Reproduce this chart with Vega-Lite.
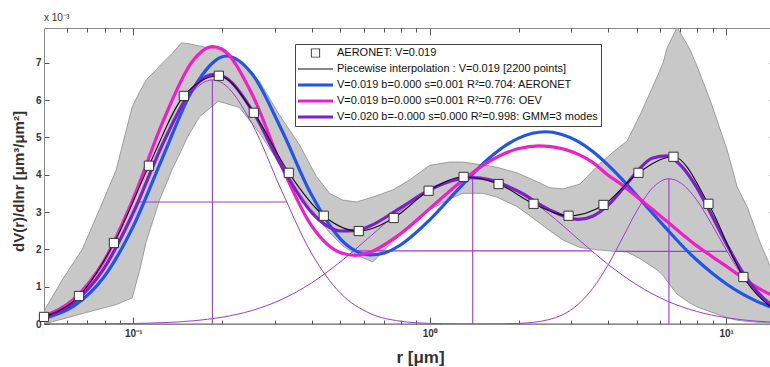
{
  "$schema": "https://vega.github.io/schema/vega-lite/v6.json",
  "width": 730,
  "height": 296,
  "autosize": "none",
  "padding": {"left": 44, "top": 28, "right": 0, "bottom": 43},
  "background": "white",
  "title": {"text": "x 10⁻³", "anchor": "start", "frame": "group", "fontSize": 10, "fontWeight": "normal", "color": "#333", "offset": 5, "font": "Liberation Sans"},
  "config": {
    "view": {"stroke": null},
    "font": "Liberation Sans",
    "axis": {"grid": false, "labelFont": "Liberation Sans", "titleFont": "Liberation Sans", "domainColor": "#8a8a8a", "tickColor": "#555", "labelColor": "#333", "titleColor": "#333"}
  },
  "datasets": {
    "band": [
      {"r":0.05,"hi":0.35,"lo":0},{"r":0.0576,"hi":1.18,"lo":0.13},{"r":0.0673,"hi":2.0,"lo":0.28},{"r":0.0786,"hi":3.24,"lo":0.42},
      {"r":0.0876,"hi":4.13,"lo":0.52},{"r":0.0992,"hi":5.82,"lo":0.7},{"r":0.1048,"hi":6.2,"lo":1.4},{"r":0.1106,"hi":6.54,"lo":2.2},
      {"r":0.1224,"hi":6.9,"lo":3.3},{"r":0.1354,"hi":7.25,"lo":4.15},{"r":0.1453,"hi":7.53,"lo":4.65},{"r":0.151,"hi":7.52,"lo":4.95},
      {"r":0.1671,"hi":7.45,"lo":5.55},{"r":0.1937,"hi":7.35,"lo":5.97},{"r":0.2281,"hi":7.05,"lo":5.8},{"r":0.2666,"hi":6.5,"lo":5.12},
      {"r":0.3113,"hi":5.6,"lo":4.3},{"r":0.3637,"hi":4.8,"lo":3.5},{"r":0.415,"hi":3.95,"lo":2.9},{"r":0.4595,"hi":3.5,"lo":2.45},
      {"r":0.5083,"hi":3.32,"lo":2.1},{"r":0.5667,"hi":3.27,"lo":1.85},{"r":0.6419,"hi":3.4,"lo":1.66},{"r":0.7499,"hi":3.59,"lo":2.2},
      {"r":0.8557,"hi":3.86,"lo":2.65},{"r":1.0,"hi":4.25,"lo":3.06},{"r":1.1686,"hi":4.34,"lo":3.35},{"r":1.2926,"hi":4.34,"lo":3.5},
      {"r":1.5101,"hi":4.26,"lo":3.5},{"r":1.6841,"hi":4.2,"lo":3.4},{"r":1.9676,"hi":4.05,"lo":3.15},{"r":2.177,"hi":3.9,"lo":2.9},
      {"r":2.5434,"hi":3.65,"lo":2.5},{"r":2.8134,"hi":3.62,"lo":2.25},{"r":3.213,"hi":3.75,"lo":2.05},{"r":3.7527,"hi":4.3,"lo":1.98},
      {"r":4.1511,"hi":4.6,"lo":1.95},{"r":4.63,"hi":4.9,"lo":1.93},{"r":5.1225,"hi":5.6,"lo":1.75},{"r":5.848,"hi":6.62,"lo":1.45},
      {"r":6.1277,"hi":7.0,"lo":1.3},{"r":6.321,"hi":7.4,"lo":1.15},{"r":6.8314,"hi":7.95,"lo":0.8},{"r":7.5568,"hi":7.35,"lo":0.56},
      {"r":7.9799,"hi":6.9,"lo":0.46},{"r":8.8308,"hi":6.0,"lo":0.33},{"r":10.078,"hi":4.66,"lo":0.17},{"r":10.894,"hi":3.67,"lo":0.1},
      {"r":11.775,"hi":3.14,"lo":0.07},{"r":13.027,"hi":2.17,"lo":0.04},{"r":14.53,"hi":1.3,"lo":0.03}
    ],
    "curves": [
      {"r":0.05,"v":0.15,"s":"fit"},{"r":0.0631,"v":0.484,"s":"fit"},{"r":0.0794,"v":1.245,"s":"fit"},{"r":0.1,"v":2.615,"s":"fit"},
      {"r":0.1259,"v":4.48,"s":"fit"},{"r":0.1585,"v":6.27,"s":"fit"},{"r":0.2061,"v":7.18,"s":"fit"},{"r":0.2512,"v":6.71,"s":"fit"},
      {"r":0.3162,"v":5.21,"s":"fit"},{"r":0.3981,"v":3.48,"s":"fit"},{"r":0.5012,"v":2.27,"s":"fit"},{"r":0.5623,"v":1.96,"s":"fit"},
      {"r":0.631,"v":1.85,"s":"fit"},{"r":0.7079,"v":1.91,"s":"fit"},{"r":0.7943,"v":2.11,"s":"fit"},{"r":1.0,"v":2.79,"s":"fit"},
      {"r":1.2589,"v":3.64,"s":"fit"},{"r":1.5849,"v":4.44,"s":"fit"},{"r":1.9953,"v":4.98,"s":"fit"},{"r":2.4491,"v":5.15,"s":"fit"},
      {"r":3.1623,"v":4.89,"s":"fit"},{"r":3.5481,"v":4.62,"s":"fit"},{"r":3.9811,"v":4.27,"s":"fit"},{"r":4.4668,"v":3.87,"s":"fit"},
      {"r":5.0119,"v":3.43,"s":"fit"},{"r":5.6234,"v":2.98,"s":"fit"},{"r":6.3096,"v":2.54,"s":"fit"},{"r":7.0795,"v":2.11,"s":"fit"},
      {"r":7.9433,"v":1.72,"s":"fit"},{"r":8.9125,"v":1.38,"s":"fit"},{"r":10,"v":1.08,"s":"fit"},{"r":11.22,"v":0.825,"s":"fit"},
      {"r":12.589,"v":0.62,"s":"fit"},{"r":14.52,"v":0.42,"s":"fit"},

      {"r":0.05,"v":0.21,"s":"oev"},{"r":0.0631,"v":0.67,"s":"oev"},{"r":0.0794,"v":1.67,"s":"oev"},{"r":0.1,"v":3.36,"s":"oev"},
      {"r":0.1259,"v":5.42,"s":"oev"},{"r":0.1585,"v":7.04,"s":"oev"},{"r":0.1849,"v":7.43,"s":"oev"},{"r":0.1995,"v":7.36,"s":"oev"},
      {"r":0.2512,"v":6.17,"s":"oev"},{"r":0.3162,"v":4.24,"s":"oev"},{"r":0.3981,"v":2.65,"s":"oev"},{"r":0.5012,"v":1.91,"s":"oev"},
      {"r":0.5623,"v":1.84,"s":"oev"},{"r":0.631,"v":1.93,"s":"oev"},{"r":0.7943,"v":2.41,"s":"oev"},{"r":1.0,"v":3.09,"s":"oev"},
      {"r":1.2589,"v":3.78,"s":"oev"},{"r":1.5849,"v":4.35,"s":"oev"},{"r":1.9953,"v":4.7,"s":"oev"},{"r":2.3442,"v":4.77,"s":"oev"},
      {"r":2.5119,"v":4.76,"s":"oev"},{"r":3.1623,"v":4.55,"s":"oev"},{"r":3.5481,"v":4.33,"s":"oev"},{"r":3.9811,"v":4.0,"s":"oev"},
      {"r":4.4668,"v":3.72,"s":"oev"},{"r":5.0119,"v":3.4,"s":"oev"},{"r":5.6234,"v":3.08,"s":"oev"},{"r":6.3096,"v":2.75,"s":"oev"},
      {"r":7.0795,"v":2.42,"s":"oev"},{"r":7.9433,"v":2.1,"s":"oev"},{"r":8.9125,"v":1.82,"s":"oev"},{"r":10,"v":1.55,"s":"oev"},
      {"r":11.22,"v":1.27,"s":"oev"},{"r":12.589,"v":1.0,"s":"oev"},{"r":14.52,"v":0.74,"s":"oev"},

      {"r":0.05,"v":0.18,"s":"gmm"},{"r":0.0631,"v":0.584,"s":"gmm"},{"r":0.0794,"v":1.473,"s":"gmm"},{"r":0.1,"v":2.981,"s":"gmm"},
      {"r":0.1259,"v":4.836,"s":"gmm"},{"r":0.1585,"v":6.304,"s":"gmm"},{"r":0.1849,"v":6.682,"s":"gmm"},{"r":0.1995,"v":6.642,"s":"gmm"},
      {"r":0.2512,"v":5.735,"s":"gmm"},{"r":0.3162,"v":4.237,"s":"gmm"},{"r":0.3981,"v":3.005,"s":"gmm"},{"r":0.4467,"v":2.65,"s":"gmm"},
      {"r":0.5012,"v":2.491,"s":"gmm"},{"r":0.5623,"v":2.5,"s":"gmm"},{"r":0.631,"v":2.63,"s":"gmm"},{"r":0.7943,"v":3.105,"s":"gmm"},
      {"r":1.0,"v":3.598,"s":"gmm"},{"r":1.2589,"v":3.889,"s":"gmm"},{"r":1.3964,"v":3.92,"s":"gmm"},{"r":1.5849,"v":3.87,"s":"gmm"},
      {"r":1.9953,"v":3.551,"s":"gmm"},{"r":2.5119,"v":3.078,"s":"gmm"},{"r":3.1623,"v":2.802,"s":"gmm"},{"r":3.5481,"v":2.889,"s":"gmm"},
      {"r":3.9811,"v":3.17,"s":"gmm"},{"r":4.4668,"v":3.609,"s":"gmm"},{"r":5.0119,"v":4.091,"s":"gmm"},{"r":5.6234,"v":4.442,"s":"gmm"},
      {"r":6.3096,"v":4.505,"s":"gmm"},{"r":6.4121,"v":4.49,"s":"gmm"},{"r":7.0795,"v":4.223,"s":"gmm"},{"r":7.9433,"v":3.668,"s":"gmm"},
      {"r":8.9125,"v":2.931,"s":"gmm"},{"r":10,"v":2.159,"s":"gmm"},{"r":11.22,"v":1.46,"s":"gmm"},{"r":12.589,"v":0.908,"s":"gmm"},
      {"r":14.52,"v":0.446,"s":"gmm"},

      {"r":0.05,"v":0.183,"s":"m1"},{"r":0.0631,"v":0.582,"s":"m1"},{"r":0.0794,"v":1.468,"s":"m1"},{"r":0.1,"v":2.967,"s":"m1"},
      {"r":0.1259,"v":4.8,"s":"m1"},{"r":0.1585,"v":6.22,"s":"m1"},{"r":0.1849,"v":6.54,"s":"m1"},{"r":0.1995,"v":6.46,"s":"m1"},
      {"r":0.2512,"v":5.375,"s":"m1"},{"r":0.3162,"v":3.582,"s":"m1"},{"r":0.3981,"v":1.912,"s":"m1"},{"r":0.5012,"v":0.818,"s":"m1"},
      {"r":0.631,"v":0.28,"s":"m1"},{"r":0.7943,"v":0.077,"s":"m1"},{"r":1.0,"v":0.017,"s":"m1"},{"r":1.2589,"v":0.003,"s":"m1"},
      {"r":1.5849,"v":0.0005,"s":"m1"},{"r":2.5119,"v":0,"s":"m1"},{"r":14.52,"v":0,"s":"m1"},

      {"r":0.05,"v":0.0005,"s":"m2"},{"r":0.0631,"v":0.0016,"s":"m2"},{"r":0.0794,"v":0.005,"s":"m2"},{"r":0.1,"v":0.014,"s":"m2"},
      {"r":0.1259,"v":0.036,"s":"m2"},{"r":0.1585,"v":0.084,"s":"m2"},{"r":0.1995,"v":0.182,"s":"m2"},{"r":0.2512,"v":0.36,"s":"m2"},
      {"r":0.3162,"v":0.655,"s":"m2"},{"r":0.3981,"v":1.093,"s":"m2"},{"r":0.5012,"v":1.673,"s":"m2"},{"r":0.631,"v":2.35,"s":"m2"},
      {"r":0.7943,"v":3.028,"s":"m2"},{"r":1.0,"v":3.581,"s":"m2"},{"r":1.2589,"v":3.886,"s":"m2"},{"r":1.3964,"v":3.92,"s":"m2"},
      {"r":1.5849,"v":3.869,"s":"m2"},{"r":1.9953,"v":3.535,"s":"m2"},{"r":2.5119,"v":2.964,"s":"m2"},{"r":3.1623,"v":2.28,"s":"m2"},
      {"r":3.5481,"v":1.936,"s":"m2"},{"r":3.9811,"v":1.609,"s":"m2"},{"r":4.4668,"v":1.309,"s":"m2"},{"r":5.0119,"v":1.043,"s":"m2"},
      {"r":5.6234,"v":0.812,"s":"m2"},{"r":6.3096,"v":0.619,"s":"m2"},{"r":7.0795,"v":0.463,"s":"m2"},{"r":7.9433,"v":0.338,"s":"m2"},
      {"r":8.9125,"v":0.241,"s":"m2"},{"r":10,"v":0.169,"s":"m2"},{"r":11.22,"v":0.116,"s":"m2"},{"r":12.589,"v":0.078,"s":"m2"},
      {"r":14.52,"v":0.046,"s":"m2"},

      {"r":0.05,"v":0,"s":"m3"},{"r":1.0,"v":0,"s":"m3"},{"r":1.5849,"v":0.0015,"s":"m3"},{"r":1.9953,"v":0.016,"s":"m3"},
      {"r":2.5119,"v":0.114,"s":"m3"},{"r":3.1623,"v":0.522,"s":"m3"},{"r":3.5481,"v":0.953,"s":"m3"},{"r":3.9811,"v":1.561,"s":"m3"},
      {"r":4.4668,"v":2.3,"s":"m3"},{"r":5.0119,"v":3.048,"s":"m3"},{"r":5.6234,"v":3.63,"s":"m3"},{"r":6.3096,"v":3.886,"s":"m3"},
      {"r":6.4121,"v":3.89,"s":"m3"},{"r":7.0795,"v":3.76,"s":"m3"},{"r":7.9433,"v":3.33,"s":"m3"},{"r":8.9125,"v":2.69,"s":"m3"},
      {"r":10,"v":1.99,"s":"m3"},{"r":11.22,"v":1.344,"s":"m3"},{"r":12.589,"v":0.83,"s":"m3"},{"r":14.52,"v":0.4,"s":"m3"}
    ],
    "aeronet": [
      {"r":0.05,"v":0.19},{"r":0.065604,"v":0.75},{"r":0.086077,"v":2.17},{"r":0.112939,"v":4.24},{"r":0.148184,"v":6.11},
      {"r":0.194429,"v":6.65},{"r":0.255105,"v":5.66},{"r":0.334716,"v":4.05},{"r":0.439173,"v":2.9},{"r":0.576227,"v":2.49},
      {"r":0.756052,"v":2.84},{"r":0.991996,"v":3.57},{"r":1.301571,"v":3.94},{"r":1.707757,"v":3.75},{"r":2.240702,"v":3.22},
      {"r":2.939966,"v":2.9},{"r":3.857452,"v":3.19},{"r":5.06126,"v":4.05},{"r":6.640745,"v":4.48},{"r":8.713145,"v":3.22},
      {"r":11.432287,"v":1.26},{"r":15,"v":0.3}
    ],
    "rules": [
      {"r":0.1849,"r2":0.1849,"v":0,"v2":6.54},
      {"r":1.3964,"r2":1.3964,"v":0,"v2":3.92},
      {"r":6.4121,"r2":6.4121,"v":0,"v2":3.89},
      {"r":0.104,"r2":0.3289,"v":3.27,"v2":3.27},
      {"r":0.554,"r2":3.52,"v":1.96,"v2":1.96},
      {"r":4.236,"r2":10.07,"v":1.945,"v2":1.945}
    ]
  },
  "layer": [
    {
      "data": {"name": "band"},
      "mark": {"type": "area", "fill": "#c8c8c8", "stroke": "#8c8c8c", "strokeWidth": 0.8, "clip": true},
      "encoding": {
        "x": {"field": "r", "type": "quantitative", "scale": {"type": "log", "domain": [0.05, 14.5], "nice": false},
          "axis": {"orient": "bottom", "values": [0.1, 1, 10], "labelExpr": "datum.value < 0.5 ? '10⁻¹' : datum.value < 5 ? '10⁰' : '10¹'",
            "tickSize": -7, "labelPadding": 11, "labelFontSize": 10, "labelFontWeight": "bold", "labelFlush": false, "labelOverlap": false,
            "title": "r [μm]", "titleFontSize": 17, "titleFontWeight": "bold", "titleX": 376, "titleY": 33, "titleAlign": "center", "titleBaseline": "middle"}},
        "y": {"field": "hi", "type": "quantitative", "scale": {"domain": [0, 7.93], "nice": false, "zero": false},
          "axis": {"orient": "left", "values": [0, 1, 2, 3, 4, 5, 6, 7], "tickSize": -5, "labelPadding": 8, "labelFontSize": 10, "labelFontWeight": "bold", "labelFlush": false,
            "title": "dV(r)/dlnr [μm³/μm²]", "titleFontSize": 15, "titleFontWeight": "bold", "titleAngle": -90, "titleX": -26, "titleY": 153, "titleAlign": "center", "titleBaseline": "middle"}},
        "y2": {"field": "lo"}
      }
    },
    {
      "data": {"name": "curves"},
      "transform": [{"filter": {"field": "s", "oneOf": ["m1", "m2", "m3"]}}],
      "mark": {"type": "line", "color": "#9a3dd1", "strokeWidth": 1, "interpolate": "monotone", "clip": true},
      "encoding": {
        "x": {"field": "r", "type": "quantitative", "scale": {"type": "log", "domain": [0.05, 14.5], "nice": false},
          "axis": {"orient": "bottom", "values": [0.06, 0.07, 0.08, 0.09, 0.2, 0.3, 0.4, 0.5, 0.6, 0.7, 0.8, 0.9, 2, 3, 4, 5, 6, 7, 8, 9], "tickSize": -4, "labels": false, "domain": false, "title": null}},
        "y": {"field": "v", "type": "quantitative", "scale": {"domain": [0, 7.93], "nice": false, "zero": false},
          "axis": {"orient": "right", "values": [1, 2, 3, 4, 5, 6, 7], "tickSize": -5, "labels": false, "title": null}},
        "detail": {"field": "s"}
      }
    },
    {
      "data": {"name": "rules"},
      "mark": {"type": "rule", "color": "#9a3dd1", "strokeWidth": 1.1},
      "encoding": {
        "x": {"field": "r", "type": "quantitative", "scale": {"type": "log", "domain": [0.05, 14.5], "nice": false},
          "axis": {"orient": "top", "values": [0.1, 1, 10], "tickSize": -7, "labels": false, "title": null}},
        "x2": {"field": "r2"},
        "y": {"field": "v", "type": "quantitative", "scale": {"domain": [0, 7.93], "nice": false, "zero": false}, "axis": null},
        "y2": {"field": "v2"}
      }
    },
    {
      "data": {"name": "curves"},
      "transform": [{"filter": {"field": "s", "oneOf": ["fit", "oev", "gmm"]}}],
      "mark": {"type": "line", "interpolate": "monotone", "clip": true},
      "encoding": {
        "x": {"field": "r", "type": "quantitative", "scale": {"type": "log", "domain": [0.05, 14.5], "nice": false},
          "axis": {"orient": "top", "values": [0.06, 0.07, 0.08, 0.09, 0.2, 0.3, 0.4, 0.5, 0.6, 0.7, 0.8, 0.9, 2, 3, 4, 5, 6, 7, 8, 9], "tickSize": -4, "labels": false, "domain": false, "title": null}},
        "y": {"field": "v", "type": "quantitative", "scale": {"domain": [0, 7.93], "nice": false, "zero": false}, "axis": null},
        "strokeWidth": {"field": "s", "type": "nominal", "scale": {"domain": ["fit", "oev", "gmm"], "range": [3.2, 3.2, 4.2]}, "legend": null},
        "color": {"field": "s", "type": "nominal",
          "scale": {"domain": ["aeronet", "piecewise", "fit", "oev", "gmm"], "range": ["transparent", "transparent", "#1f55e8", "#f01ec8", "#7f1fc8"]},
          "legend": {
            "orient": "none", "legendX": 251, "legendY": 16, "title": null, "direction": "vertical",
            "fillColor": "white", "strokeColor": "#444", "padding": 3,
            "labelFont": "Liberation Sans", "labelFontSize": 11, "labelColor": "#111", "labelLimit": 0,
            "symbolSize": 64, "symbolStrokeWidth": 3, "symbolOffset": 12, "labelOffset": 16, "rowPadding": 4, "clipHeight": 12,
            "labelExpr": "datum.value == 'aeronet' ? 'AERONET: V=0.019' : datum.value == 'piecewise' ? 'Piecewise interpolation : V=0.019 [2200 points]' : datum.value == 'fit' ? 'V=0.019 b=0.000 s=0.001 R²=0.704: AERONET' : datum.value == 'oev' ? 'V=0.019 b=0.000 s=0.001 R²=0.776: OEV' : 'V=0.020 b=-0.000 s=0.000 R²=0.998: GMM=3 modes'",
            "encode": {"symbols": {"update": {
              "shape": {"signal": "datum.value == 'aeronet' ? 'M-1.15,-1.15H1.15V1.15H-1.15ZM-0.92,-0.92V0.92H0.92V-0.92Z' : datum.value == 'piecewise' ? 'M-4.375,-0.13H4.375V0.13H-4.375Z' : 'M-4.375,0H4.375'"},
              "fill": {"signal": "datum.value == 'aeronet' ? '#333333' : datum.value == 'piecewise' ? '#111111' : 'transparent'"}
            }}}
          }}
      }
    },
    {
      "data": {"name": "aeronet"},
      "mark": {"type": "line", "color": "#111", "strokeWidth": 1.1, "interpolate": "monotone", "clip": true},
      "encoding": {
        "x": {"field": "r", "type": "quantitative", "scale": {"type": "log", "domain": [0.05, 14.5], "nice": false}, "axis": null},
        "y": {"field": "v", "type": "quantitative", "scale": {"domain": [0, 7.93], "nice": false, "zero": false}, "axis": null}
      }
    },
    {
      "data": {"name": "aeronet"},
      "mark": {"type": "square", "size": 85, "fill": "white", "stroke": "#333", "strokeWidth": 1, "opacity": 1},
      "encoding": {
        "x": {"field": "r", "type": "quantitative", "scale": {"type": "log", "domain": [0.05, 14.5], "nice": false}, "axis": null},
        "y": {"field": "v", "type": "quantitative", "scale": {"domain": [0, 7.93], "nice": false, "zero": false}, "axis": null}
      }
    }
  ],
  "resolve": {"axis": {"x": "independent", "y": "independent"}}
}
